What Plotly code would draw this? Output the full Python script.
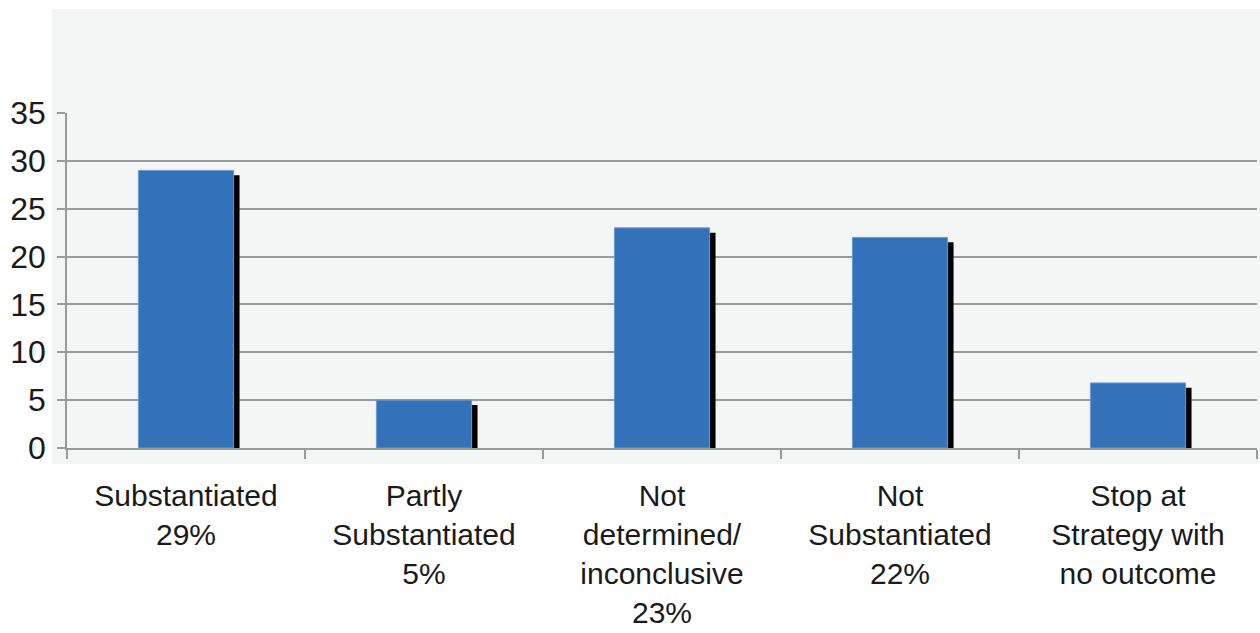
import plotly.graph_objects as go

categories = [
    "Substantiated<br>29%",
    "Partly<br>Substantiated<br>5%",
    "Not<br>determined/<br>inconclusive<br>23%",
    "Not<br>Substantiated<br>22%",
    "Stop at<br>Strategy with<br>no outcome",
]
values = [29, 5, 23, 22, 6.8]
y_ticks = [0, 5, 10, 15, 20, 25, 30, 35]

FONT = "Liberation Sans, Arial, sans-serif"
GRID = "#9a9a9a"

fig = go.Figure()

# drop shadow behind each bar, nudged right and down
fig.add_trace(go.Bar(
    x=categories, y=[v - 0.5 for v in values],
    width=0.4, offset=-0.175,
    marker=dict(color="#000000", line=dict(width=0)),
    hoverinfo="skip", showlegend=False,
))
# main bars
fig.add_trace(go.Bar(
    x=categories, y=values,
    width=0.4, offset=-0.2,
    marker=dict(color="#3371b9", line=dict(color="#6b9ad6", width=1)),
    showlegend=False,
))

fig.update_layout(
    width=1260, height=633,
    margin=dict(l=67, r=3, t=113, b=185),
    paper_bgcolor="#ffffff",
    plot_bgcolor="rgba(0,0,0,0)",
    barmode="overlay",
    font=dict(family=FONT, size=31, color="#1a1a1a"),
    shapes=[dict(
        type="rect", xref="paper", yref="paper",
        x0=-0.0126, x1=1.01, y0=-0.048, y1=1.3104,
        fillcolor="#f4f6f6", line=dict(width=0), layer="below",
    )],
)
fig.update_xaxes(
    showgrid=False, automargin=False,
    showline=True, linecolor=GRID, linewidth=1.5,
    ticks="outside", tickson="boundaries", ticklen=9,
    tickcolor=GRID, tickwidth=1.5,
    tickfont=dict(size=30), ticklabelstandoff=20,
)
fig.update_yaxes(
    range=[0, 35], tickvals=y_ticks, automargin=False,
    showgrid=True, gridcolor=GRID, gridwidth=1.5,
    showline=True, linecolor=GRID, linewidth=1.5,
    ticks="outside", ticklen=8, tickcolor=GRID, tickwidth=1.5,
    tickfont=dict(size=32), ticklabelstandoff=5, zeroline=False,
)

fig.write_html("out.html")
